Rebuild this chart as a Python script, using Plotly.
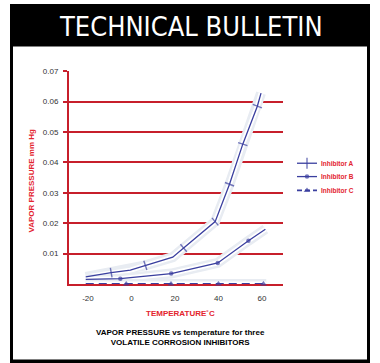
import plotly.graph_objects as go

# ---------------- data ----------------
temps_a = [-21, -9.3, -0.5, 6.4, 19, 24, 38.5, 45.1, 51.2, 57.9, 59.6]
vp_a = [0.0023, 0.0037, 0.0045, 0.0061, 0.0088, 0.0118, 0.0205, 0.0328, 0.046, 0.0585, 0.0628]
marked_a = [0, 1, 0, 1, 0, 1, 1, 1, 1, 1, 0]

temps_b = [-21, -5.1, 18.3, 39.7, 53.8, 61.6]
vp_b = [0.0015, 0.0017, 0.0034, 0.0069, 0.0142, 0.018]
marked_b = [0, 1, 1, 1, 1, 0]

temps_c = [-21, -2.4, 18.2, 40, 60.7, 62]
vp_c = [0, 0, 0, 0, 0, 0]
marked_c = [0, 1, 1, 1, 1, 0]

series_names = ["Inhibitor A", "Inhibitor B", "Inhibitor C"]
x_ticks = [-20, 0, 20, 40, 60]
x_tick_labels = ["-20", "0", "20", "40", "60"]
y_ticks = [0.01, 0.02, 0.03, 0.04, 0.05, 0.06, 0.07]
y_tick_labels = ["0.01", "0.02", "0.03", "0.04", "0.05", "0.06", "0.07"]

# ---------------- styles ----------------
W, H = 380, 363
RED = "#c71f2b"
TXT_RED = "#e3242e"
BLUE = "#3a3f9f"
HALO = "#e8ecf2"
FONT = "Liberation Sans"

def px_x(p):
    return p / W

def px_y(p):
    return 1 - p / H

fig = go.Figure()

series = [
    (temps_a, vp_a, marked_a, "line-ew", 7, 1.3, "solid"),
    (temps_b, vp_b, marked_b, "circle", 4.5, 1.3, "solid"),
    (temps_c, vp_c, marked_c, "triangle-up", 6, 2, "8px,5px"),
]

# halos
for xs, ys, m, sym, ms, lw, dash in series:
    fig.add_trace(go.Scatter(x=xs, y=ys, mode="lines", line=dict(color=HALO, width=10),
                             hoverinfo="skip", cliponaxis=False))
    fig.add_trace(go.Scatter(x=xs, y=ys, mode="lines", line=dict(color="white", width=5),
                             hoverinfo="skip", cliponaxis=False))

for (xs, ys, m, sym, ms, lw, dash), name in zip(series, series_names):
    fig.add_trace(go.Scatter(
        x=xs, y=ys, mode="lines+markers", name=name,
        line=dict(color=BLUE, width=lw, dash=dash),
        marker=dict(symbol=sym, size=[ms if f else 0 for f in m], color=BLUE,
                    angleref="previous" if sym == "line-ew" else "up",
                    line=dict(color=BLUE, width=1.4 if sym == "line-ew" else 0)),
        cliponaxis=False,
    ))

# legend drawn with auxiliary axes
leg_y = [161, 174.5, 188.5]
for i, ((xs, ys, m, sym, ms, lw, dash), name) in enumerate(zip(series, series_names)):
    yy = 1 - leg_y[i] / H
    fig.add_trace(go.Scatter(
        x=[0, 0.5, 1], y=[yy, yy, yy], mode="lines+markers", xaxis="x2", yaxis="y2",
        line=dict(color=BLUE, width=lw if i < 2 else 1.6, dash="solid" if i < 2 else "5px,3px"),
        marker=dict(symbol="line-ns" if sym == "line-ew" else sym,
                    size=[0, ms + (1 if i == 0 else 0), 0], color=BLUE,
                    line=dict(color=BLUE, width=1.4 if sym == "line-ew" else 0)),
        cliponaxis=False, hoverinfo="skip"))
    fig.add_annotation(text="<b>%s</b>" % name, x=px_x(319), y=yy, xref="paper", yref="paper",
                       xanchor="left", yanchor="middle", showarrow=False,
                       font=dict(family=FONT, size=6.5, color=TXT_RED))

# frame shapes
shapes = [
    dict(type="rect", xref="paper", yref="paper", x0=px_x(10), x1=px_x(370), y0=px_y(363), y1=px_y(0),
         fillcolor="black", line=dict(width=0), layer="below"),
    dict(type="rect", xref="paper", yref="paper", x0=px_x(13), x1=px_x(367), y0=px_y(359.5), y1=px_y(43),
         fillcolor="white", line=dict(width=0), layer="below"),
]

annotations = [
    dict(text="TECHNICAL BULLETIN", x=px_x(191), y=px_y(23), xref="paper", yref="paper",
         showarrow=False, xanchor="center", yanchor="middle",
         font=dict(family="DejaVu Sans Condensed, Roboto Condensed, Liberation Sans Narrow, sans-serif",
                   size=27, color="white")),
    dict(text="<b>VAPOR PRESSURE mm Hg</b>", x=px_x(32), y=px_y(178.5), xref="paper", yref="paper",
         showarrow=False, textangle=-90, xanchor="center", yanchor="middle",
         font=dict(family=FONT, size=8, color=TXT_RED)),
    dict(text="<b>TEMPERATURE˚C</b>", x=px_x(180), y=px_y(313), xref="paper", yref="paper",
         showarrow=False, xanchor="center", yanchor="middle",
         font=dict(family=FONT, size=8, color=TXT_RED)),
    dict(text="<b>VAPOR PRESSURE vs temperature for three<br>VOLATILE CORROSION INHIBITORS</b>",
         x=px_x(180), y=px_y(337), xref="paper", yref="paper",
         showarrow=False, xanchor="center", yanchor="middle",
         font=dict(family=FONT, size=8, color="black")),
]
for a in annotations:
    fig.add_annotation(**a)

fig.update_layout(
    width=W, height=H, autosize=False,
    margin=dict(l=0, r=0, t=0, b=0),
    paper_bgcolor="white", plot_bgcolor="rgba(0,0,0,0)",
    showlegend=False, shapes=shapes,
    xaxis=dict(domain=[px_x(69), px_x(283)], range=[-28.7, 69.7],
               tickvals=x_ticks, ticktext=x_tick_labels, ticks="", showgrid=False,
               zeroline=False, showline=True, linecolor=RED, linewidth=2,
               layer="below traces", ticklabelstandoff=6,
               tickfont=dict(family=FONT, size=8, color="#333333")),
    yaxis=dict(domain=[px_y(283), px_y(68)], range=[0, 0.07],
               tickvals=y_ticks, ticktext=y_tick_labels, ticks="outside", ticklen=4,
               tickcolor=RED, tickwidth=2, showgrid=True, gridcolor=RED, gridwidth=2,
               zeroline=False, showline=True, linecolor=RED, linewidth=2,
               layer="below traces", ticklabelstandoff=3,
               tickfont=dict(family=FONT, size=8, color="#333333")),
    xaxis2=dict(domain=[px_x(297), px_x(317)], range=[0, 1], visible=False, anchor="y2"),
    yaxis2=dict(domain=[0, 1], range=[0, 1], visible=False, anchor="x2"),
)

fig.write_html("out.html", config={"displayModeBar": False},
               post_script="document.body.style.margin='0';")
